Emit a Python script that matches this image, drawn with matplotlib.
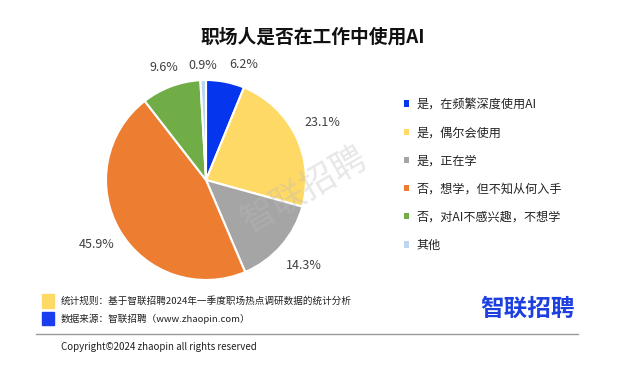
import matplotlib
matplotlib.use("Agg")
import matplotlib.pyplot as plt
from matplotlib.patches import Rectangle
import numpy as np

plt.rcParams['font.family'] = ['Noto Sans CJK SC', 'DejaVu Sans']

title = "职场人是否在工作中使用AI"
categories = ["是，在频繁深度使用AI", "是，偶尔会使用", "是，正在学",
              "否，想学，但不知从何入手", "否，对AI不感兴趣，不想学", "其他"]
values = [6.2, 23.1, 14.3, 45.9, 9.6, 0.9]
colors = ["#0536EE", "#FFD966", "#A5A5A5", "#ED7D31", "#70AD47", "#BDD7EE"]
note1 = "统计规则：基于智联招聘2024年一季度职场热点调研数据的统计分析"
note2 = "数据来源：智联招聘（www.zhaopin.com）"
copyright_text = "Copyright©2024 zhaopin all rights reserved"
logo = "智联招聘"

W, H = 625, 366
fig = plt.figure(figsize=(W / 100, H / 100), dpi=100)
fig.patch.set_facecolor("white")

def fx(px):
    return px / W

def fy(py):
    return 1 - py / H

# pie axes: center (206,180), radius ~100 px
cx, cy, r = 206, 180, 100
ax = fig.add_axes([fx(cx - r), fy(cy + r), 2 * r / W, 2 * r / H])
wedges, _ = ax.pie(values, colors=colors, startangle=90, counterclock=False,
                   wedgeprops=dict(edgecolor="white", linewidth=1.5))
ax.set_aspect("equal")
ax.set_xlim(-1, 1)
ax.set_ylim(-1, 1)

label_dist = [1.18, 1.3, 1.3, 1.27, 1.2, 1.15]
label_ha = ["left", "center", "center", "center", "center", "center"]
for w, v, d, ha in zip(wedges, values, label_dist, label_ha):
    ang = np.deg2rad((w.theta1 + w.theta2) / 2)
    ax.text(d * np.cos(ang), d * np.sin(ang), f"{v}%", ha=ha, va="center",
            fontsize=9, color="#404040", clip_on=False)

# title
fig.text(fx(313), fy(37), title, ha="center", va="center", fontsize=13.5,
         fontweight="bold", color="#111111")

# legend
leg = fig.legend(wedges, categories, loc="upper left",
                 bbox_to_anchor=(fx(398), fy(92)), frameon=False,
                 fontsize=8.7, handlelength=0.45, handleheight=0.45,
                 handletextpad=0.55, labelspacing=1.25, borderpad=0,
                 labelcolor="#222222")
for h in leg.legend_handles:
    h.set_edgecolor("none")

# watermark
fig.text(fx(304), fy(190), logo, ha="center", va="center", fontsize=25,
         rotation=30, color="#BBBBBB", alpha=0.35, zorder=10, fontweight="light")

# footer
fig.patches.append(Rectangle((fx(42), fy(308)), 12 / W, 14 / H,
                             transform=fig.transFigure, color="#FFD966"))
fig.patches.append(Rectangle((fx(42), fy(325)), 12 / W, 13 / H,
                             transform=fig.transFigure, color="#1B3DF0"))
fig.text(fx(61), fy(301), note1, ha="left", va="center", fontsize=6.9, color="#222222")
fig.text(fx(61), fy(319), note2, ha="left", va="center", fontsize=6.9, color="#222222")
fig.text(fx(528), fy(309), logo, ha="center", va="center", fontsize=17,
         fontweight="bold", color="#1D3FE0")
fig.add_artist(plt.Line2D([fx(36), fx(578)], [fy(334), fy(334)],
                          transform=fig.transFigure, color="#9A9A9A", linewidth=1))
fig.text(fx(61), fy(347), copyright_text, ha="left", va="center", fontsize=7,
         color="#222222")

fig.savefig("out.png", dpi=100, facecolor="white")
